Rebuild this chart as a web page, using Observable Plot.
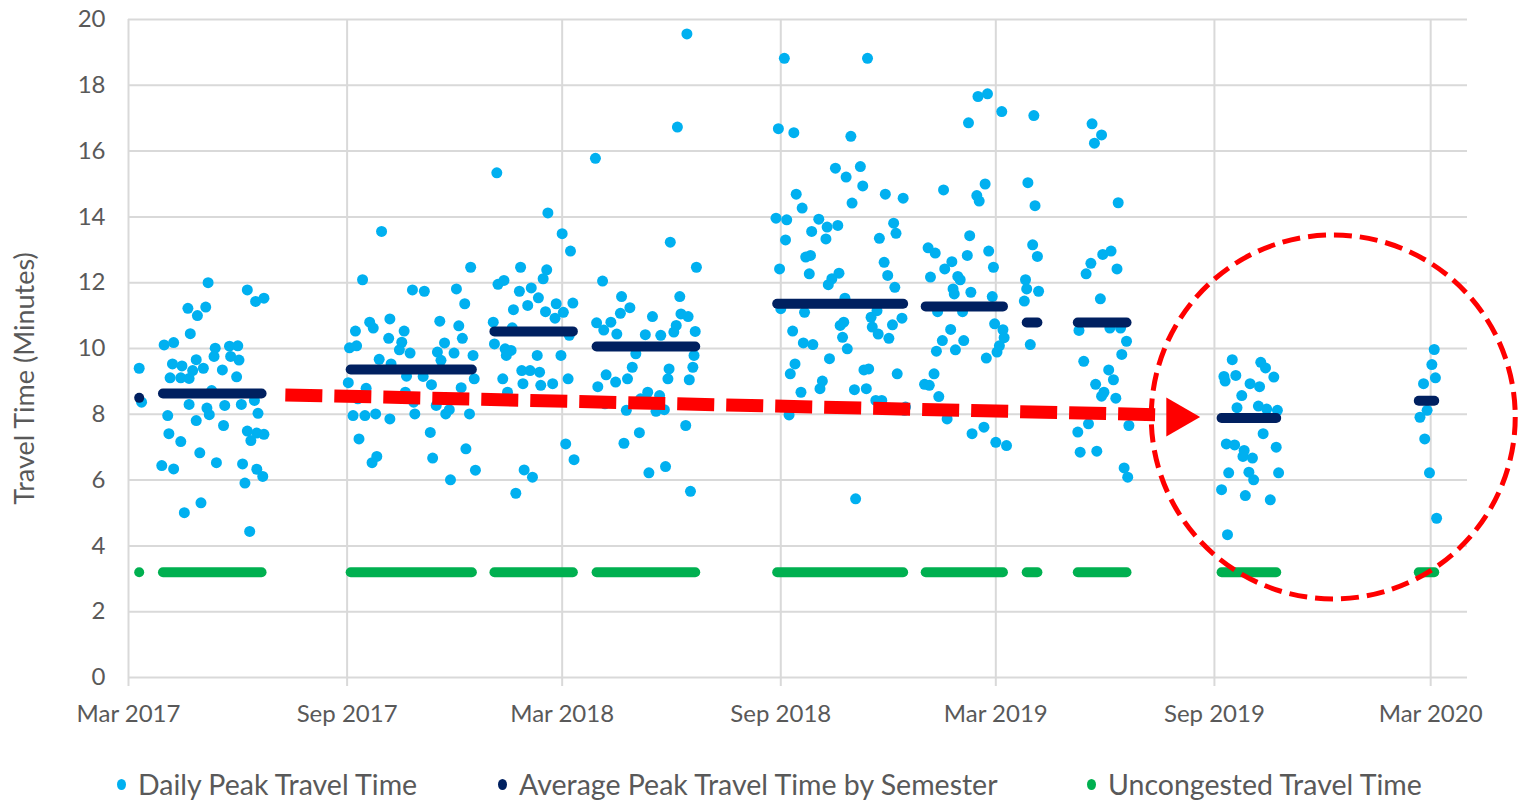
<!DOCTYPE html>
<html><head><meta charset="utf-8">
<script src="https://cdn.jsdelivr.net/npm/d3@7"></script>
<script src="https://cdn.jsdelivr.net/npm/@observablehq/plot@0.6"></script>
<style>
body{margin:0;background:#fff;width:1518px;height:803px;overflow:hidden;position:relative;font-family:Lato,sans-serif;}
#chart{position:absolute;left:0;top:0;}
#legend{position:absolute;left:0;top:766px;width:1518px;height:36px;}
.item{position:absolute;top:0;height:36px;line-height:36px;display:flex;align-items:center;color:#595959;font-size:28.5px;white-space:nowrap;}
.sw{width:9px;height:11px;border-radius:50%;margin-right:12px;}
</style></head><body>
<div id="chart"></div>
<div id="legend"></div>
<script>
// ---------- data ----------
const xTickDates = ["2017-03-01","2017-09-01","2018-03-01","2018-09-01","2019-03-01","2019-09-01","2020-03-01"];
const yTicks = [0,2,4,6,8,10,12,14,16,18,20];
const seriesNames = ["Daily Peak Travel Time","Average Peak Travel Time by Semester","Uncongested Travel Time"];
const seriesColors = ["#00b0f0","#002060","#00b050"];
const yLabel = "Travel Time (Minutes)";

const dailyMar2017 = [["2017-03-10",9.40],["2017-03-12",8.37]];
const dailySpring2017 = [["2017-03-29",6.44],["2017-03-31",10.11],["2017-04-03",7.96],["2017-04-04",7.41],["2017-04-05",9.11],["2017-04-07",9.53],["2017-04-08",10.18],["2017-04-08",6.34],["2017-04-14",9.11],["2017-04-14",7.17],["2017-04-15",9.47],["2017-04-17",5.01],["2017-04-20",11.22],["2017-04-21",9.09],["2017-04-21",8.30],["2017-04-22",10.45],["2017-04-24",9.33],["2017-04-27",9.66],["2017-04-27",7.81],["2017-04-28",11.00],["2017-04-30",6.83],["2017-05-01",5.31],["2017-05-03",9.40],["2017-05-05",11.26],["2017-05-06",8.19],["2017-05-07",12.00],["2017-05-08",7.99],["2017-05-10",8.72],["2017-05-12",9.76],["2017-05-13",10.01],["2017-05-14",6.53],["2017-05-19",9.35],["2017-05-20",7.66],["2017-05-21",8.27],["2017-05-25",10.07],["2017-05-26",9.76],["2017-05-31",9.14],["2017-06-01",10.08],["2017-06-02",9.65],["2017-06-04",8.30],["2017-06-05",6.49],["2017-06-07",5.91],["2017-06-09",11.78],["2017-06-09",7.49],["2017-06-11",4.44],["2017-06-12",7.20],["2017-06-15",8.42],["2017-06-16",11.43],["2017-06-17",7.43],["2017-06-17",6.33],["2017-06-18",8.03],["2017-06-22",6.11],["2017-06-23",11.53],["2017-06-23",7.39]];
const dailyFall2017 = [["2017-09-02",8.96],["2017-09-03",10.02],["2017-09-06",7.96],["2017-09-08",10.53],["2017-09-09",10.08],["2017-09-10",8.47],["2017-09-11",7.25],["2017-09-14",12.09],["2017-09-16",7.96],["2017-09-17",8.79],["2017-09-20",10.80],["2017-09-22",6.53],["2017-09-23",10.62],["2017-09-25",8.01],["2017-09-26",6.72],["2017-09-28",9.67],["2017-09-30",13.56],["2017-10-06",10.31],["2017-10-07",10.90],["2017-10-07",7.86],["2017-10-08",9.53],["2017-10-15",9.96],["2017-10-17",10.19],["2017-10-19",10.53],["2017-10-20",8.67],["2017-10-21",9.16],["2017-10-24",9.86],["2017-10-26",11.78],["2017-10-27",8.37],["2017-10-28",8.01],["2017-11-04",9.15],["2017-11-05",11.74],["2017-11-10",7.45],["2017-11-11",8.90],["2017-11-12",6.67],["2017-11-15",8.27],["2017-11-16",9.89],["2017-11-18",10.83],["2017-11-19",9.64],["2017-11-22",10.17],["2017-11-23",8.01],["2017-11-26",8.14],["2017-11-27",6.01],["2017-11-30",9.86],["2017-12-02",11.81],["2017-12-04",10.69],["2017-12-06",8.81],["2017-12-07",10.31],["2017-12-09",11.36],["2017-12-10",6.95],["2017-12-13",8.01],["2017-12-14",12.47],["2017-12-16",9.79],["2017-12-17",9.08],["2017-12-18",6.30]];
const dailyWinter2018 = [["2018-01-02",10.80],["2018-01-03",10.14],["2018-01-05",15.34],["2018-01-06",11.95],["2018-01-10",9.08],["2018-01-11",12.07],["2018-01-12",9.99],["2018-01-13",9.79],["2018-01-14",8.67],["2018-01-17",9.94],["2018-01-18",10.63],["2018-01-19",11.18],["2018-01-21",5.60],["2018-01-24",11.74],["2018-01-25",12.47],["2018-01-26",9.33],["2018-01-27",8.93],["2018-01-28",6.31],["2018-01-31",11.31],["2018-02-02",9.33],["2018-02-03",11.84],["2018-02-04",6.09],["2018-02-08",9.79],["2018-02-09",11.54],["2018-02-10",9.28],["2018-02-11",8.88],["2018-02-13",12.12],["2018-02-15",11.12],["2018-02-16",12.39],["2018-02-17",14.12],["2018-02-21",8.93],["2018-02-23",10.92],["2018-02-24",11.36],["2018-02-28",9.79],["2018-03-01",13.49],["2018-03-02",11.10],["2018-03-04",7.10],["2018-03-06",9.08],["2018-03-07",10.40],["2018-03-08",12.96],["2018-03-10",11.38],["2018-03-11",6.62]];
const dailySpring2018 = [["2018-03-29",15.78],["2018-03-30",10.78],["2018-03-31",8.84],["2018-04-04",12.05],["2018-04-05",10.56],["2018-04-06",8.32],["2018-04-07",9.20],["2018-04-11",10.80],["2018-04-15",8.98],["2018-04-16",10.44],["2018-04-19",11.07],["2018-04-20",11.58],["2018-04-22",7.12],["2018-04-24",8.12],["2018-04-25",9.08],["2018-04-27",11.24],["2018-04-29",9.43],["2018-05-02",9.84],["2018-05-05",7.44],["2018-05-06",8.47],["2018-05-10",10.42],["2018-05-12",8.67],["2018-05-13",6.22],["2018-05-16",10.97],["2018-05-19",8.09],["2018-05-22",8.57],["2018-05-23",10.40],["2018-05-26",8.14],["2018-05-27",6.41],["2018-05-29",9.08],["2018-05-30",9.38],["2018-05-31",13.23],["2018-06-03",10.50],["2018-06-05",10.70],["2018-06-06",16.73],["2018-06-08",11.58],["2018-06-09",11.05],["2018-06-13",7.66],["2018-06-14",19.56],["2018-06-15",10.97],["2018-06-16",9.05],["2018-06-17",5.66],["2018-06-19",9.43],["2018-06-20",9.79],["2018-06-21",10.52],["2018-06-22",12.47]];
const dailyFall2018 = [["2018-08-28",13.96],["2018-08-30",16.68],["2018-08-31",12.42],["2018-09-01",11.21],["2018-09-04",18.82],["2018-09-05",13.30],["2018-09-06",13.91],["2018-09-08",7.98],["2018-09-09",9.23],["2018-09-11",10.53],["2018-09-12",16.56],["2018-09-13",9.53],["2018-09-14",14.69],["2018-09-18",8.67],["2018-09-19",14.27],["2018-09-20",10.17],["2018-09-21",11.10],["2018-09-22",12.78],["2018-09-25",12.27],["2018-09-26",12.83],["2018-09-27",13.56],["2018-09-28",10.12],["2018-10-03",13.93],["2018-10-04",8.78],["2018-10-06",9.01],["2018-10-09",13.33],["2018-10-10",13.69],["2018-10-11",11.94],["2018-10-12",9.69],["2018-10-14",12.12],["2018-10-17",15.48],["2018-10-19",13.74],["2018-10-20",12.29],["2018-10-21",10.70],["2018-10-23",10.34],["2018-10-24",10.80],["2018-10-25",11.53],["2018-10-26",15.21],["2018-10-27",9.99],["2018-10-30",16.45],["2018-10-31",14.42],["2018-11-02",8.75],["2018-11-03",5.43],["2018-11-07",15.53],["2018-11-09",14.94],["2018-11-10",9.35],["2018-11-12",8.78],["2018-11-13",18.82],["2018-11-14",9.38],["2018-11-16",10.95],["2018-11-17",10.65],["2018-11-20",8.42],["2018-11-21",11.15],["2018-11-22",10.44],["2018-11-23",13.35],["2018-11-25",8.42],["2018-11-27",12.62],["2018-11-28",14.69],["2018-11-30",12.22],["2018-12-01",10.31],["2018-12-04",10.72],["2018-12-05",13.81],["2018-12-06",11.86],["2018-12-07",13.50],["2018-12-08",9.23],["2018-12-12",10.92],["2018-12-13",14.57],["2018-12-14",8.12],["2018-12-15",8.22]];
const dailyWinter2019 = [["2018-12-31",8.91],["2019-01-03",13.06],["2019-01-04",8.88],["2019-01-05",12.17],["2019-01-08",9.23],["2019-01-09",12.90],["2019-01-10",9.92],["2019-01-11",11.12],["2019-01-12",8.54],["2019-01-15",10.24],["2019-01-16",14.82],["2019-01-17",12.42],["2019-01-19",7.86],["2019-01-22",10.58],["2019-01-23",12.64],["2019-01-24",11.81],["2019-01-25",11.66],["2019-01-26",9.96],["2019-01-28",12.19],["2019-01-30",12.09],["2019-02-01",11.12],["2019-02-02",10.24],["2019-02-05",12.83],["2019-02-06",16.86],["2019-02-07",13.43],["2019-02-08",11.71],["2019-02-09",7.41],["2019-02-13",14.65],["2019-02-14",17.66],["2019-02-15",14.48],["2019-02-19",7.61],["2019-02-20",15.00],["2019-02-21",9.71],["2019-02-22",17.74],["2019-02-23",12.96],["2019-02-26",11.58],["2019-02-27",12.47],["2019-02-28",10.75],["2019-03-01",7.15],["2019-03-02",9.89],["2019-03-04",10.08],["2019-03-06",17.20],["2019-03-07",10.57],["2019-03-08",10.33],["2019-03-10",7.05]];
const dailyMar2019 = [["2019-03-25",11.44],["2019-03-26",12.09],["2019-03-27",11.81],["2019-03-28",15.04],["2019-03-30",10.12],["2019-04-01",13.15],["2019-04-02",17.08],["2019-04-03",14.34],["2019-04-05",12.80],["2019-04-06",11.74]];
const dailySummer2019 = [["2019-05-09",7.46],["2019-05-10",10.55],["2019-05-11",6.85],["2019-05-14",9.61],["2019-05-16",12.27],["2019-05-18",7.71],["2019-05-20",12.59],["2019-05-21",16.83],["2019-05-23",16.24],["2019-05-24",8.91],["2019-05-25",6.88],["2019-05-28",11.51],["2019-05-29",16.49],["2019-05-29",8.55],["2019-05-30",12.86],["2019-05-31",8.67],["2019-06-04",9.35],["2019-06-05",10.62],["2019-06-06",12.96],["2019-06-08",9.05],["2019-06-10",8.49],["2019-06-11",12.42],["2019-06-12",14.43],["2019-06-14",10.62],["2019-06-15",9.82],["2019-06-17",6.37],["2019-06-19",10.22],["2019-06-20",6.09],["2019-06-21",7.66]];
const dailyFall2019 = [["2019-09-07",5.71],["2019-09-09",9.15],["2019-09-10",9.01],["2019-09-11",7.10],["2019-09-12",4.34],["2019-09-13",6.22],["2019-09-16",9.66],["2019-09-18",7.07],["2019-09-19",9.18],["2019-09-20",8.20],["2019-09-24",8.57],["2019-09-25",6.72],["2019-09-26",6.90],["2019-09-27",5.53],["2019-09-30",6.24],["2019-10-01",8.93],["2019-10-03",6.67],["2019-10-04",6.01],["2019-10-08",8.25],["2019-10-09",8.84],["2019-10-10",9.58],["2019-10-12",7.41],["2019-10-14",9.41],["2019-10-15",8.16],["2019-10-18",5.40],["2019-10-21",9.13],["2019-10-23",7.00],["2019-10-24",8.12],["2019-10-25",6.22]];
const dailyFeb2020 = [["2020-02-21",7.91],["2020-02-24",8.93],["2020-02-25",7.25],["2020-02-27",8.12],["2020-02-29",6.22],["2020-03-02",9.51],["2020-03-04",9.97],["2020-03-05",9.11],["2020-03-06",4.84]];

const semesterStart = ["2017-03-10","2017-03-30","2017-09-04","2018-01-03","2018-03-30","2018-08-29","2019-01-01","2019-03-27","2019-05-09","2019-09-07","2020-02-20"];
const semesterEnd   = ["2017-03-10","2017-06-21","2017-12-15","2018-03-10","2018-06-21","2018-12-13","2019-03-07","2019-04-05","2019-06-19","2019-10-23","2020-03-04"];
const semesterAverage = [8.50,8.63,9.36,10.52,10.06,11.36,11.28,10.79,10.79,7.89,8.41];
const semesterUncongested = [3.2,3.2,3.2,3.2,3.2,3.2,3.2,3.2,3.2,3.2,3.2];

// annotation (red dashed arrow and circle)
const arrowLine = [{from:"2017-07-11", fromValue:8.59, to:"2019-07-22", toValue:7.98}];
const arrowHead = [{date:"2019-08-01", value:7.92}];
const highlightCircle = [{date:"2019-12-10", value:7.92}];

// ---------- build ----------
const parse = d3.utcParse("%Y-%m-%d");
const daily = [dailyMar2017, dailySpring2017, dailyFall2017, dailyWinter2018, dailySpring2018, dailyFall2018,
  dailyWinter2019, dailyMar2019, dailySummer2019, dailyFall2019, dailyFeb2020]
  .flat().map(([d, v]) => ({date: parse(d), value: v}));
const semesters = semesterStart.map((s, i) => ({start: parse(s), end: parse(semesterEnd[i]),
  avg: semesterAverage[i], base: semesterUncongested[i]}));
const xTicks = xTickDates.map(parse);
const arrowData = arrowLine.map(a => ({x1: parse(a.from), y1: a.fromValue, x2: parse(a.to), y2: a.toValue}));
const headData = arrowHead.map(a => ({date: parse(a.date), value: a.value}));
const circleData = highlightCircle.map(a => ({date: parse(a.date), value: a.value}));

const chart = Plot.plot({
  width: 1518, height: 760,
  marginTop: 19, marginRight: 51, marginBottom: 83, marginLeft: 128,
  style: {fontFamily: "Lato, sans-serif", fontSize: "24px", color: "#595959", background: "#fff"},
  x: {type: "utc", domain: [parse("2017-03-01"), parse("2020-04-01")]},
  y: {domain: [0, 20]},
  marks: [
    Plot.ruleY(yTicks, {stroke: "#d9d9d9", strokeWidth: 2}),
    Plot.ruleX(xTicks, {stroke: "#d9d9d9", strokeWidth: 2}),
    Plot.axisX(xTicks, {tickSize: 9, tickPadding: 18, stroke: "#d9d9d9", strokeWidth: 2,
      tickFormat: d3.utcFormat("%b %Y"), label: null}),
    Plot.axisY(yTicks, {tickSize: 0, tickPadding: 23, label: null}),
    Plot.text([yLabel], {text: d => d, frameAnchor: "left", textAnchor: "middle", rotate: -90,
      dx: -103, dy: 30, fontSize: 27}),
    Plot.link(semesters, {x1: "start", x2: "end", y1: "base", y2: "base",
      stroke: seriesColors[2], strokeWidth: 10, strokeLinecap: "round"}),
    Plot.dot(daily, {x: "date", y: "value", r: 5.5, fill: seriesColors[0]}),
    Plot.link(semesters, {x1: "start", x2: "end", y1: "avg", y2: "avg",
      stroke: seriesColors[1], strokeWidth: 10, strokeLinecap: "round"}),
    Plot.link(arrowData, {x1: "x1", y1: "y1", x2: "x2", y2: "y2",
      stroke: "#ff0000", strokeWidth: 13, strokeDasharray: "37,12"}),
    Plot.dot(headData, {x: "date", y: "value", symbol: "triangle", rotate: 90, r: 14.5, fill: "#ff0000"}),
    Plot.dot(circleData, {x: "date", y: "value", r: 182, fill: "none", stroke: "#ff0000",
      strokeWidth: 5, strokeDasharray: "18,8"})
  ]
});
document.getElementById("chart").appendChild(chart);

// legend
const legendLeft = [117, 498, 1087];
const legend = document.getElementById("legend");
seriesNames.forEach((name, i) => {
  const item = document.createElement("div");
  item.className = "item";
  item.style.left = legendLeft[i] + "px";
  const sw = document.createElement("span");
  sw.className = "sw";
  sw.style.background = seriesColors[i];
  const label = document.createElement("span");
  label.textContent = name;
  item.appendChild(sw); item.appendChild(label);
  legend.appendChild(item);
});
</script></body></html>
